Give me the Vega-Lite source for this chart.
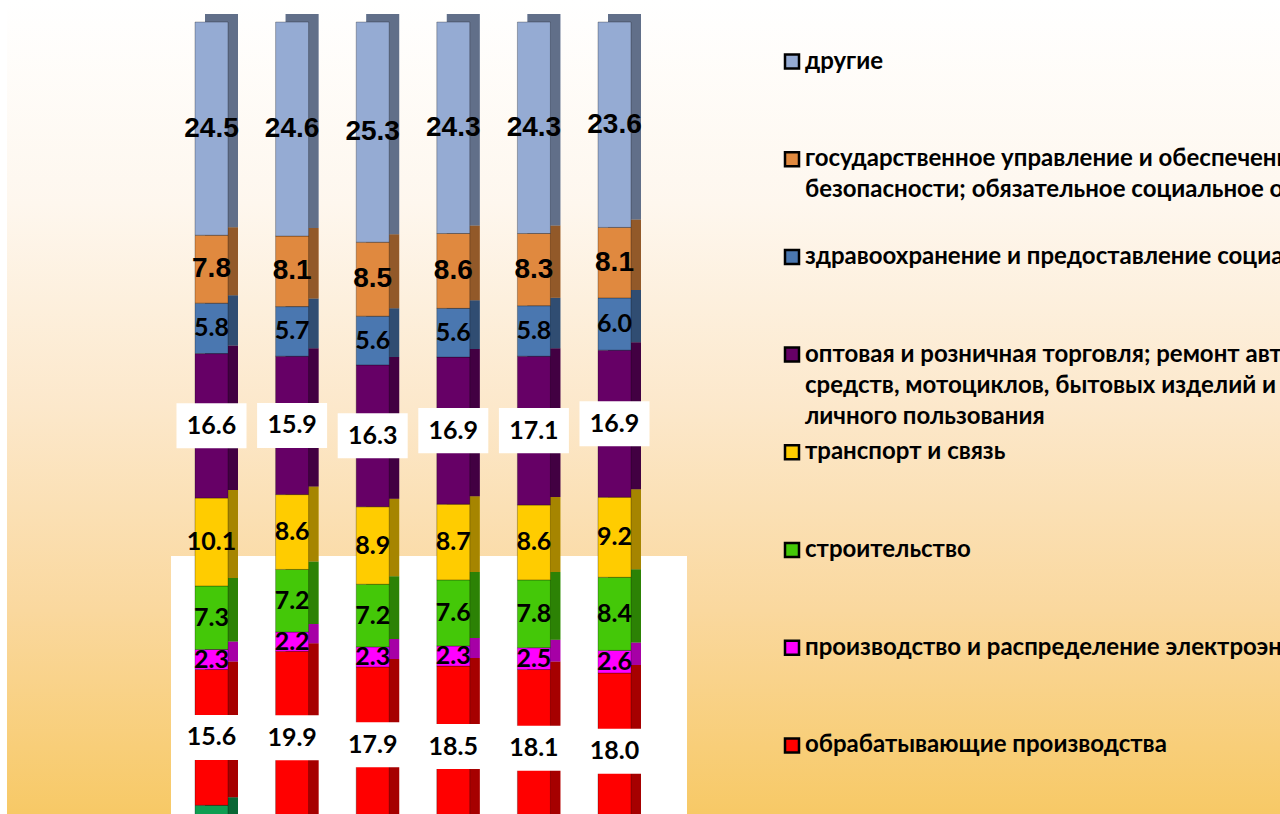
{
"$schema": "https://vega.github.io/schema/vega-lite/v6.json",
"width": 1273, "height": 814, "autosize": "none",
"padding": {"left": 7, "top": 0, "right": 0, "bottom": 0},
"background": "#ffffff",
"config": {
 "view": {"stroke": null, "fill": {"gradient": "linear", "x1": 0, "y1": 0, "x2": 0, "y2": 1, "stops": [
  {"offset": 0, "color": "#FFFFFF"}, {"offset": 0.25, "color": "#FEF7EE"}, {"offset": 0.5, "color": "#FCE8CB"}, {"offset": 0.75, "color": "#FAD89E"}, {"offset": 1, "color": "#F7C966"}]}},
 "style": {"guide-label": {"dy": 7, "lineHeight": 31}}
},
"datasets": {
 "cats": [
  {"k": 0, "cat": "прочие отрасли"},
  {"k": 1, "cat": "обрабатывающие производства"},
  {"k": 2, "cat": "производство и распределение электроэнергии, газа и воды"},
  {"k": 3, "cat": "строительство"},
  {"k": 4, "cat": "транспорт и связь"},
  {"k": 5, "cat": "оптовая и розничная торговля; ремонт автотранспортных средств, мотоциклов, бытовых изделий и предметов личного пользования"},
  {"k": 6, "cat": "здравоохранение и предоставление социальных услуг"},
  {"k": 7, "cat": "государственное управление и обеспечение военной безопасности; обязательное социальное обеспечение"},
  {"k": 8, "cat": "другие"}
 ],
 "shares": [
  {"period": "1", "k": 0, "v": 10.0}, {"period": "1", "k": 1, "v": 15.6}, {"period": "1", "k": 2, "v": 2.3}, {"period": "1", "k": 3, "v": 7.3}, {"period": "1", "k": 4, "v": 10.1}, {"period": "1", "k": 5, "v": 16.6}, {"period": "1", "k": 6, "v": 5.8}, {"period": "1", "k": 7, "v": 7.8}, {"period": "1", "k": 8, "v": 24.5},
  {"period": "2", "k": 0, "v": 7.8}, {"period": "2", "k": 1, "v": 19.9}, {"period": "2", "k": 2, "v": 2.2}, {"period": "2", "k": 3, "v": 7.2}, {"period": "2", "k": 4, "v": 8.6}, {"period": "2", "k": 5, "v": 15.9}, {"period": "2", "k": 6, "v": 5.7}, {"period": "2", "k": 7, "v": 8.1}, {"period": "2", "k": 8, "v": 24.6},
  {"period": "3", "k": 0, "v": 8.0}, {"period": "3", "k": 1, "v": 17.9}, {"period": "3", "k": 2, "v": 2.3}, {"period": "3", "k": 3, "v": 7.2}, {"period": "3", "k": 4, "v": 8.9}, {"period": "3", "k": 5, "v": 16.3}, {"period": "3", "k": 6, "v": 5.6}, {"period": "3", "k": 7, "v": 8.5}, {"period": "3", "k": 8, "v": 25.3},
  {"period": "4", "k": 0, "v": 7.5}, {"period": "4", "k": 1, "v": 18.5}, {"period": "4", "k": 2, "v": 2.3}, {"period": "4", "k": 3, "v": 7.6}, {"period": "4", "k": 4, "v": 8.7}, {"period": "4", "k": 5, "v": 16.9}, {"period": "4", "k": 6, "v": 5.6}, {"period": "4", "k": 7, "v": 8.6}, {"period": "4", "k": 8, "v": 24.3},
  {"period": "5", "k": 0, "v": 7.5}, {"period": "5", "k": 1, "v": 18.1}, {"period": "5", "k": 2, "v": 2.5}, {"period": "5", "k": 3, "v": 7.8}, {"period": "5", "k": 4, "v": 8.6}, {"period": "5", "k": 5, "v": 17.1}, {"period": "5", "k": 6, "v": 5.8}, {"period": "5", "k": 7, "v": 8.3}, {"period": "5", "k": 8, "v": 24.3},
  {"period": "6", "k": 0, "v": 7.2}, {"period": "6", "k": 1, "v": 18.0}, {"period": "6", "k": 2, "v": 2.6}, {"period": "6", "k": 3, "v": 8.4}, {"period": "6", "k": 4, "v": 9.2}, {"period": "6", "k": 5, "v": 16.9}, {"period": "6", "k": 6, "v": 6.0}, {"period": "6", "k": 7, "v": 8.1}, {"period": "6", "k": 8, "v": 23.6}
 ]
},
"data": {"name": "shares"},
"transform": [{"lookup": "k", "from": {"data": {"name": "cats"}, "key": "k", "fields": ["cat"]}}],
"layer": [
 {
  "mark": {"type": "rect", "fill": "#ffffff", "width": {"band": 1.4}, "xOffset": 16},
  "encoding": {
   "x": {"field": "period", "type": "nominal", "axis": null, "scale": {"paddingInner": 0, "paddingOuter": 0, "range": [164.2, 647.8]}},
   "y": {"datum": 38.6, "type": "quantitative", "axis": null, "scale": {"domain": [9, 102.53], "nice": false, "zero": false}},
   "y2": {"datum": 9}
  }
 },
 {
  "mark": {"type": "bar", "width": 33, "xOffset": 10, "x2Offset": 10, "yOffset": -8, "y2Offset": -8},
  "encoding": {
   "x": {"field": "period", "type": "nominal"},
   "y": {"field": "v", "type": "quantitative", "stack": "zero"},
   "color": {"field": "cat", "type": "nominal",
     "scale": {"domain": ["прочие отрасли", "обрабатывающие производства", "производство и распределение электроэнергии, газа и воды", "строительство", "транспорт и связь", "оптовая и розничная торговля; ремонт автотранспортных средств, мотоциклов, бытовых изделий и предметов личного пользования", "здравоохранение и предоставление социальных услуг", "государственное управление и обеспечение военной безопасности; обязательное социальное обеспечение", "другие"],
               "range": ["#0E9E52", "#FF0000", "#FF00FF", "#44C808", "#FFCC00", "#660066", "#4A77B0", "#E0893F", "#95ABD3"]},
     "legend": {"title": null, "orient": "none", "legendX": 773, "legendY": 49.5, "direction": "vertical",
       "values": ["другие", "государственное управление и обеспечение военной безопасности; обязательное социальное обеспечение", "здравоохранение и предоставление социальных услуг", "оптовая и розничная торговля; ремонт автотранспортных средств, мотоциклов, бытовых изделий и предметов личного пользования", "транспорт и связь", "строительство", "производство и распределение электроэнергии, газа и воды", "обрабатывающие производства"],
       "symbolType": "square", "symbolSize": 196, "symbolStrokeWidth": 2.5, "symbolOpacity": 1, "symbolStrokeColor": "#000000",
       "labelFont": "Lato", "labelFontSize": 24, "labelFontWeight": "bold", "labelColor": "#000000",
       "labelLimit": 3000, "labelOffset": 1, "labelBaseline": "alphabetic", "rowPadding": 11.7, "gridAlign": "all", "padding": 0,
       "labelExpr": "indexof(datum.label, 'государственное') == 0 ? ['государственное управление и обеспечение военной', 'безопасности; обязательное социальное обеспечение'] : indexof(datum.label, 'оптовая') == 0 ? ['оптовая и розничная торговля; ремонт автотранспортных', 'средств, мотоциклов, бытовых изделий и предметов', 'личного пользования'] : datum.label"
     }},
   "order": {"field": "k", "type": "quantitative"}
  }
 },
 {
  "mark": {"type": "bar", "width": 33, "xOffset": 10, "x2Offset": 10, "yOffset": -8, "y2Offset": -8, "color": "#000000", "opacity": 0.35},
  "encoding": {
   "x": {"field": "period", "type": "nominal"},
   "y": {"field": "v", "type": "quantitative", "stack": "zero"},
   "detail": {"field": "cat"},
   "order": {"field": "k", "type": "quantitative"}
  }
 },
 {
  "mark": {"type": "bar", "width": 33, "stroke": "#000000", "strokeOpacity": 0.35, "strokeWidth": 0.8},
  "encoding": {
   "x": {"field": "period", "type": "nominal"},
   "y": {"field": "v", "type": "quantitative", "stack": "zero"},
   "color": {"field": "cat", "type": "nominal"},
   "order": {"field": "k", "type": "quantitative"}
  }
 },
 {
  "mark": {"type": "point", "shape": "M-1,-0.643H1V0.643H-1Z", "size": 4900, "filled": true, "fill": "#ffffff", "strokeWidth": 0},
  "encoding": {
   "x": {"field": "period", "type": "nominal"},
   "y": {"field": "v", "type": "quantitative", "stack": "zero", "bandPosition": 0.5},
   "detail": {"field": "cat"},
   "order": {"field": "k", "type": "quantitative"},
   "opacity": {"condition": {"test": "datum.k == 5 || datum.k == 1", "value": 1}, "value": 0}
  }
 },
 {
  "mark": {"type": "text", "font": "Liberation Sans", "fontWeight": "bold", "fontSize": 28, "color": "#000000", "baseline": "middle", "align": "center"},
  "encoding": {
   "x": {"field": "period", "type": "nominal"},
   "y": {"field": "v", "type": "quantitative", "stack": "zero", "bandPosition": 0.5},
   "detail": {"field": "cat"},
   "order": {"field": "k", "type": "quantitative"},
   "text": {"field": "v", "type": "quantitative", "format": ".1f"},
   "opacity": {"condition": {"test": "datum.k >= 7", "value": 1}, "value": 0}
  }
 },
 {
  "mark": {"type": "text", "font": "Lato", "fontWeight": "bold", "fontSize": 25, "color": "#000000", "baseline": "middle", "align": "center"},
  "encoding": {
   "x": {"field": "period", "type": "nominal"},
   "y": {"field": "v", "type": "quantitative", "stack": "zero", "bandPosition": 0.5},
   "detail": {"field": "cat"},
   "order": {"field": "k", "type": "quantitative"},
   "text": {"field": "v", "type": "quantitative", "format": ".1f"},
   "opacity": {"condition": {"test": "datum.k >= 1 && datum.k <= 6", "value": 1}, "value": 0}
  }
 }
]
}
